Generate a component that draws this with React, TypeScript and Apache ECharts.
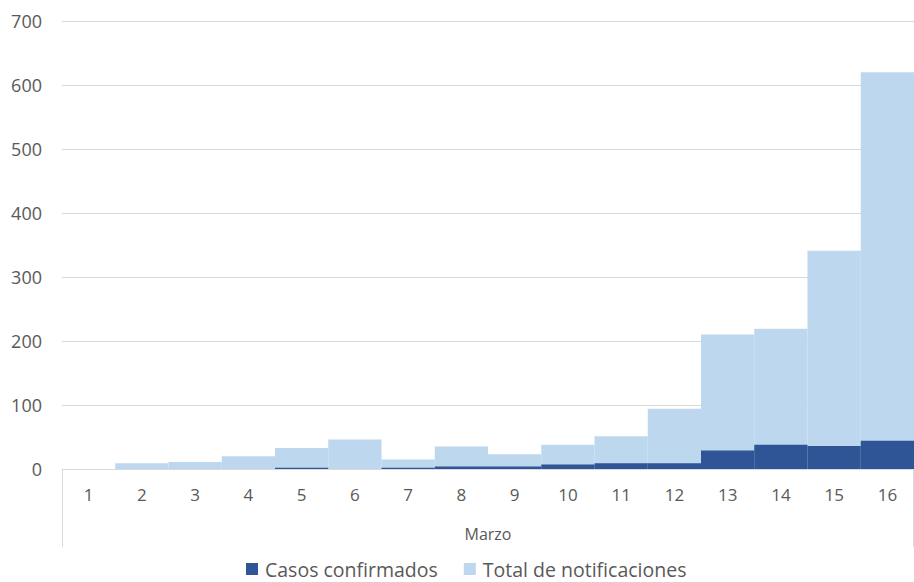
import React, { useEffect, useRef } from "react";
import * as echarts from "echarts";

const days = ["1", "2", "3", "4", "5", "6", "7", "8", "9", "10", "11", "12", "13", "14", "15", "16"];
const confirmados = [0, 0, 0, 0, 2, 0, 2, 4, 4, 7, 9, 9, 29, 38, 36, 44];
const notificaciones = [0, 9, 11, 20, 33, 46, 15, 35, 23, 38, 51, 94, 210, 219, 341, 620];
const yTicks = { min: 0, max: 700, interval: 100 };
const monthLabel = "Marzo";
const seriesNames = ["Casos confirmados", "Total de notificaciones"];

const FONT = "'Open Sans', 'Noto Sans', sans-serif";

export default function App() {
  const ref = useRef<HTMLDivElement>(null);
  useEffect(() => {
    if (!ref.current) return;
    const chart = echarts.init(ref.current, null, { renderer: "svg" });
    const left = 62;
    const right = 0;
    const top = 21;
    const bottom = 113;
    const W = 914;
    const H = 582;
    const axisY = H - bottom;
    chart.setOption({
      animation: false,
      textStyle: { fontFamily: FONT },
      grid: { left, right, top, bottom, containLabel: false },
      legend: {
        data: [seriesNames[0], seriesNames[1]],
        top: 559,
        left: 246,
        padding: 0,
        icon: "rect",
        itemWidth: 12,
        itemHeight: 12,
        itemGap: 26,
        textStyle: { fontSize: 19.5, color: "#595959", fontFamily: FONT, padding: [0, 0, 0, 2] },
      },
      xAxis: {
        type: "category",
        data: days,
        axisLine: { show: true, lineStyle: { color: "#D9D9D9", width: 1 } },
        axisTick: { show: false },
        axisLabel: { color: "#595959", fontSize: 17, margin: 17, fontFamily: FONT },
      },
      yAxis: {
        type: "value",
        min: yTicks.min,
        max: yTicks.max,
        interval: yTicks.interval,
        axisLine: { show: false },
        axisTick: { show: false },
        splitLine: { lineStyle: { color: "#D9D9D9", width: 1 } },
        axisLabel: { color: "#595959", fontSize: 18, margin: 20, fontFamily: FONT },
      },
      series: [
        {
          name: seriesNames[1],
          type: "bar",
          data: notificaciones,
          barGap: "-100%",
          barCategoryGap: 0,
          itemStyle: { color: "#BDD7EE" },
        },
        {
          name: seriesNames[0],
          type: "bar",
          data: confirmados,
          barGap: "-100%",
          barCategoryGap: 0,
          itemStyle: { color: "#2F5597" },
        },
      ],
      graphic: [
        {
          type: "line",
          shape: { x1: left + 0.5, y1: axisY, x2: left + 0.5, y2: 547 },
          style: { stroke: "#D9D9D9", lineWidth: 1 },
        },
        {
          type: "line",
          shape: { x1: W - right - 0.5, y1: axisY, x2: W - right - 0.5, y2: 547 },
          style: { stroke: "#D9D9D9", lineWidth: 1 },
        },
        {
          type: "text",
          x: (left + W - right) / 2,
          y: 534,
          style: {
            text: monthLabel,
            fill: "#595959",
            font: `16px ${FONT}`,
            textAlign: "center",
            textVerticalAlign: "middle",
          },
        },
      ],
    });
    return () => chart.dispose();
  }, []);
  return (
    <div
      ref={ref}
      style={{ position: "fixed", left: 0, top: 0, width: 914, height: 582, background: "#fff" }}
    />
  );
}
